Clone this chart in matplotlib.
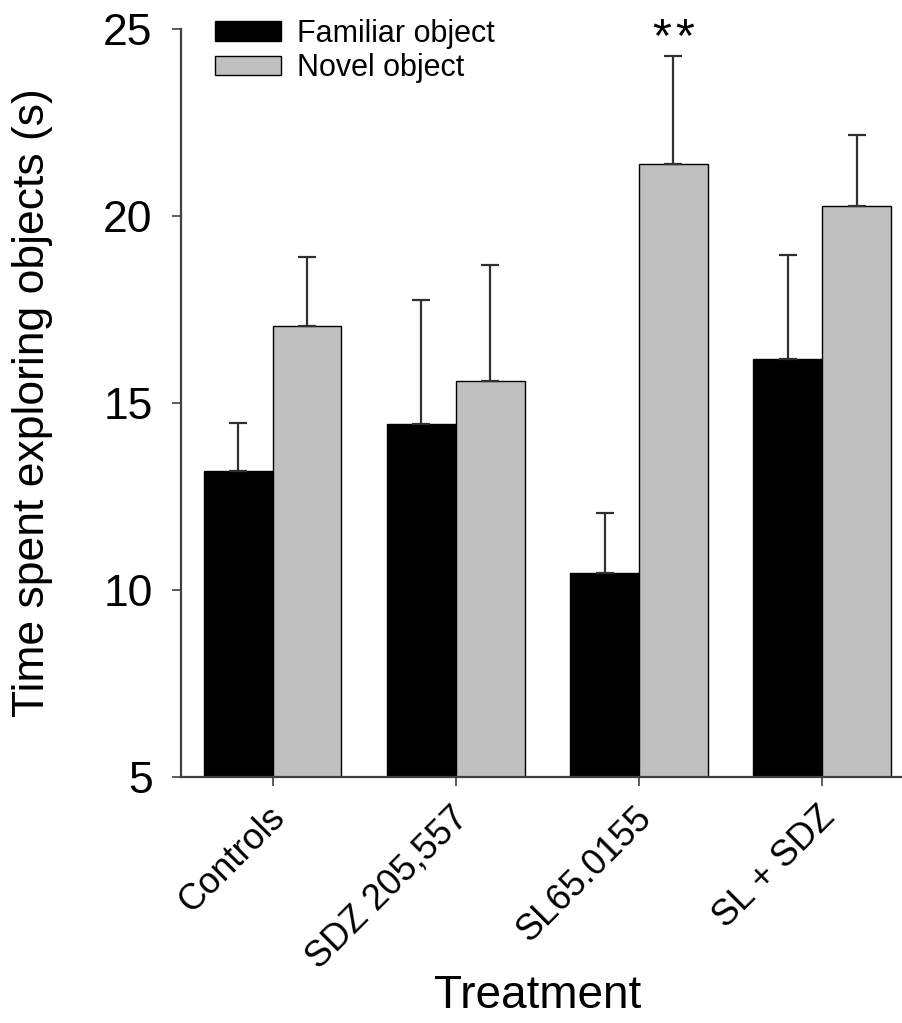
import matplotlib
matplotlib.use("Agg")
import matplotlib.pyplot as plt
import matplotlib.transforms as mtransforms
import numpy as np

plt.rcParams['font.family'] = ['Liberation Sans', 'DejaVu Sans']

# Datos
treatments = ["Controls", "SDZ 205,557", "SL65.0155", "SL + SDZ"]
familiar = [13.18, 14.43, 10.45, 16.18]
familiar_err = [1.29, 3.33, 1.62, 2.79]
novel = [17.05, 15.58, 21.39, 20.27]
novel_err = [1.86, 3.10, 2.90, 1.90]
signif = ["", "", "**", ""]

fig = plt.figure(figsize=(9.02, 10.23), dpi=100)
ax = fig.add_axes([181/902, 1 - 777/1023, (902 - 181)/902, (777 - 29)/1023])

x = np.arange(len(treatments))
w = 0.376
err_kw = dict(ecolor="#303030", elinewidth=1.6, capsize=6.5, capthick=1.6)

ax.bar(x - w/2, familiar, w, color="black", edgecolor="black", linewidth=1,
       yerr=[np.zeros(len(familiar)), familiar_err], error_kw=err_kw,
       label="Familiar object")
ax.bar(x + w/2, novel, w, color="#c0c0c0", edgecolor="black", linewidth=1,
       yerr=[np.zeros(len(novel)), novel_err], error_kw=err_kw,
       label="Novel object")

# asteriscos de significacion (uno por uno, algo separados)
for i, s in enumerate(signif):
    n = len(s)
    for k in range(n):
        dx = (k - (n - 1) / 2) * 17
        ax.annotate("*", xy=(x[i] + w/2, novel[i] + novel_err[i]), xytext=(dx, 3),
                    textcoords="offset points", ha="center", va="baseline",
                    fontsize=35, annotation_clip=False)

ax.set_xlim(-0.5, 3.436)
ax.set_ylim(5, 25)
ax.set_yticks([5, 10, 15, 20, 25])
ax.set_xticks(x)
ax.set_xticklabels(treatments, rotation=45, ha="right", rotation_mode="anchor")

ax.tick_params(axis="y", labelsize=32, length=6.5, width=1.2, pad=14, color="#404040")
ax.tick_params(axis="x", labelsize=26, length=6.5, width=1.2, pad=8, color="#404040")

offset = mtransforms.ScaledTranslation(-0.05, -0.03, fig.dpi_scale_trans)
for lab in ax.get_xticklabels():
    lab.set_transform(lab.get_transform() + offset)

for side in ["top", "right"]:
    ax.spines[side].set_visible(False)
for side in ["left", "bottom"]:
    ax.spines[side].set_color("#404040")
    ax.spines[side].set_linewidth(1.6)

ax.set_ylabel("Time spent exploring objects (s)", fontsize=32, labelpad=36)
ax.set_xlabel("Treatment", fontsize=33)
ax.xaxis.set_label_coords(0.495, -0.264)

ax.legend(loc="upper left", bbox_to_anchor=(0.03, 1.03), frameon=False,
          fontsize=22, handlelength=2.16, handleheight=0.6, labelspacing=0.15,
          handletextpad=0.52, borderaxespad=0)

plt.savefig("out.png", dpi=100)
plt.close()
